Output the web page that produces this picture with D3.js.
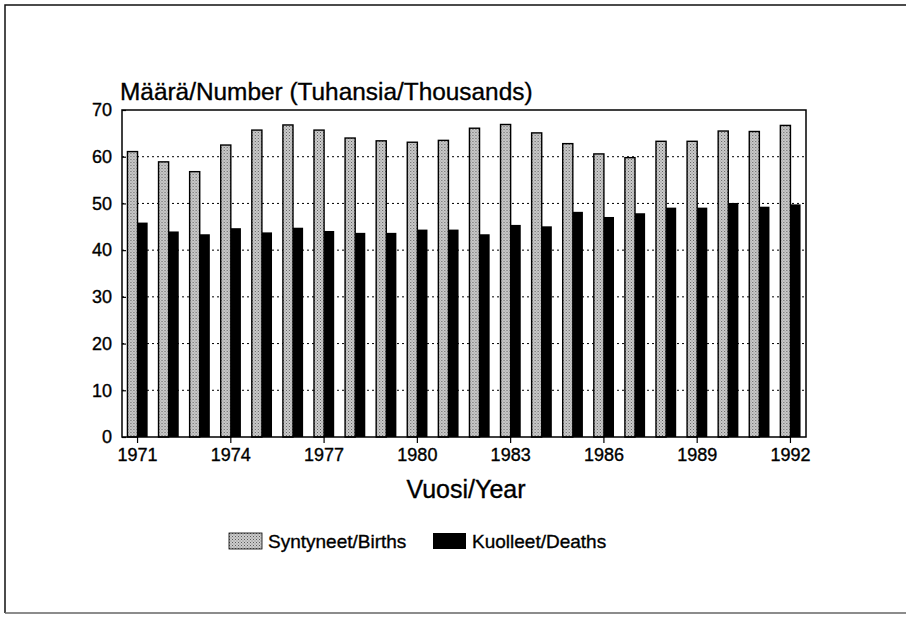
<!DOCTYPE html>
<html>
  <head>
    <meta charset="utf-8">
    <title>Births and deaths 1971-1992</title>
    <script src="https://d3js.org/d3.v7.min.js"></script>
    <style>
      body { margin: 0; background: #fff; }
      text { font-family: "Liberation Sans", Arial, Helvetica, sans-serif; fill: #000; stroke: #000; stroke-width: 0.35px; }
    </style>
  </head>
  <body>
    <script>
      var width = 906;
      var height = 618;

      // data (thousands)
      var years = [1971, 1972, 1973, 1974, 1975, 1976, 1977, 1978, 1979, 1980, 1981,
                   1982, 1983, 1984, 1985, 1986, 1987, 1988, 1989, 1990, 1991, 1992];
      var births = [61.1, 58.9, 56.8, 62.5, 65.7, 66.8, 65.7, 64.0, 63.4, 63.1, 63.5,
                    66.1, 66.9, 65.1, 62.8, 60.6, 59.8, 63.3, 63.3, 65.5, 65.4, 66.7];
      var deaths = [45.9, 44.0, 43.4, 44.7, 43.8, 44.8, 44.1, 43.7, 43.7, 44.4, 44.4,
                    43.4, 45.4, 45.1, 48.2, 47.1, 47.9, 49.1, 49.1, 50.1, 49.3, 49.8];
      var yTicks = [0, 10, 20, 30, 40, 50, 60, 70];
      var xTickYears = [1971, 1974, 1977, 1980, 1983, 1986, 1989, 1992];
      var seriesNames = ["Syntyneet/Births", "Kuolleet/Deaths"];

      var svg = d3.select("body").append("svg").attr("width", width).attr("height", height);

      // stippled grey fill for births
      var pat = svg.append("defs").append("pattern")
        .attr("id", "stipple")
        .attr("width", 3).attr("height", 3)
        .attr("patternUnits", "userSpaceOnUse");
      pat.append("rect").attr("width", 3).attr("height", 3).attr("fill", "#cdcdcd");
      pat.append("rect").attr("x", 0).attr("y", 0).attr("width", 1).attr("height", 1).attr("fill", "#5a5a5a");
      pat.append("rect").attr("x", 1.5).attr("y", 1.5).attr("width", 1).attr("height", 1).attr("fill", "#7a7a7a");

      // outer frame (scanned page border)
      svg.append("path").attr("d", "M906,5H5V613").attr("fill", "none").attr("stroke", "#111").attr("stroke-width", 1.5);
      svg.append("line").attr("x1", 5).attr("x2", 906).attr("y1", 613).attr("y2", 613)
        .attr("stroke", "#666").attr("stroke-width", 1.5);

      // plot area
      var pLeft = 122, pRight = 806, pTop = 110, pBottom = 437;

      var xScale = d3.scaleBand()
        .domain(years)
        .range([pLeft, pRight])
        .paddingInner(0.35)
        .paddingOuter(0.175);

      var xInner = d3.scaleBand()
        .domain([0, 1])
        .range([0, xScale.bandwidth()]);

      var yScale = d3.scaleLinear()
        .domain([0, 70])
        .range([pBottom, pTop]);

      // dotted grid lines
      svg.append("g")
        .selectAll("line")
        .data(yTicks.filter((d) => d > 0 && d < 70))
        .enter()
        .append("line")
        .attr("x1", pLeft).attr("x2", pRight)
        .attr("y1", (d) => yScale(d)).attr("y2", (d) => yScale(d))
        .attr("stroke", "#000")
        .attr("stroke-width", 1)
        .attr("stroke-dasharray", "2,3");

      var groups = svg.append("g")
        .selectAll("g")
        .data(years)
        .enter()
        .append("g")
        .attr("transform", (d) => "translate(" + xScale(d) + ",0)");

      groups.append("rect")
        .attr("x", xInner(0))
        .attr("y", (d, i) => yScale(births[i]))
        .attr("width", xInner.bandwidth())
        .attr("height", (d, i) => pBottom - yScale(births[i]))
        .attr("fill", "url(#stipple)")
        .attr("stroke", "#000")
        .attr("stroke-width", 1.4);

      groups.append("rect")
        .attr("x", xInner(1))
        .attr("y", (d, i) => yScale(deaths[i]))
        .attr("width", xInner.bandwidth())
        .attr("height", (d, i) => pBottom - yScale(deaths[i]))
        .attr("fill", "#000");

      // plot frame
      svg.append("rect")
        .attr("x", pLeft).attr("y", pTop)
        .attr("width", pRight - pLeft).attr("height", pBottom - pTop)
        .attr("fill", "none")
        .attr("stroke", "#000")
        .attr("stroke-width", 1.5);

      // y axis: inward ticks
      var axisy = d3.axisLeft(yScale).tickValues(yTicks).tickSize(-4).tickPadding(10);
      var gy = svg.append("g")
        .attr("transform", "translate(" + pLeft + ",0)")
        .call(axisy);
      gy.select(".domain").remove();
      gy.selectAll("line").attr("stroke", "#000").attr("stroke-width", 1.2);
      gy.selectAll("text").attr("font-size", 18).attr("font-family", null).attr("fill", "#000");

      // x axis: ticks every 3 years at group centres
      var axisx = d3.axisBottom(xScale).tickValues(xTickYears).tickSize(6).tickPadding(5);
      var gx = svg.append("g")
        .attr("transform", "translate(0," + pBottom + ")")
        .call(axisx);
      gx.select(".domain").remove();
      gx.selectAll("line").attr("stroke", "#000").attr("stroke-width", 1.2);
      gx.selectAll("text").attr("font-size", 18).attr("font-family", null).attr("fill", "#000");

      // titles
      svg.append("text")
        .attr("x", 120).attr("y", 100)
        .attr("font-size", 24.4)
        .text("Määrä/Number (Tuhansia/Thousands)");

      svg.append("text")
        .attr("x", 466).attr("y", 498)
        .attr("text-anchor", "middle")
        .attr("font-size", 25)
        .text("Vuosi/Year");

      // legend
      var legendX = [229, 433];
      var legend = svg.append("g")
        .selectAll("g")
        .data(seriesNames)
        .enter()
        .append("g")
        .attr("transform", (d, i) => "translate(" + legendX[i] + ",533)");

      legend.append("rect")
        .attr("width", 33).attr("height", 16)
        .attr("fill", (d, i) => i == 0 ? "url(#stipple)" : "#000")
        .attr("stroke", "#000")
        .attr("stroke-width", (d, i) => i == 0 ? 0.8 : 0);

      legend.append("text")
        .attr("x", 39).attr("y", 15)
        .attr("font-size", 19)
        .text((d) => d);
    </script>
  </body>
</html>
